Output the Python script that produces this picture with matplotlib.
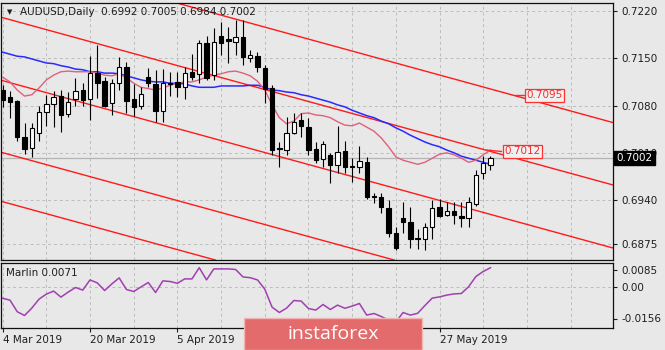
import numpy as np
import matplotlib
matplotlib.use('Agg')
import matplotlib.pyplot as plt
from matplotlib.patches import Rectangle

# AUDUSD diario, 4 Mar 2019 - 5 Jun 2019
opens = [0.7103, 0.7093, 0.7087, 0.7033, 0.7017, 0.7039, 0.7070, 0.7082, 0.7094, 0.7068,
         0.7090, 0.7103, 0.7090, 0.7128, 0.7116, 0.7084, 0.7113, 0.7137, 0.7090, 0.7079,
         0.7122, 0.7112, 0.7072, 0.7113, 0.7115, 0.7107, 0.7130, 0.7127, 0.7173, 0.7125,
         0.7183, 0.7179, 0.7174, 0.7182, 0.7150, 0.7153, 0.7136, 0.7106, 0.7017, 0.7014,
         0.7039, 0.7059, 0.7048, 0.7016, 0.7001, 0.7007, 0.6992, 0.7013, 0.6991, 0.6989,
         0.6996, 0.6946, 0.6945, 0.6928, 0.6891, 0.6914, 0.6908, 0.6884, 0.6882, 0.6900,
         0.6930, 0.6918, 0.6924, 0.6916, 0.6913, 0.6934, 0.6980, 0.6992]
highs = [0.7111, 0.7102, 0.7088, 0.7054, 0.7054, 0.7079, 0.7096, 0.7102, 0.7103, 0.7100,
         0.7121, 0.7113, 0.7153, 0.7170, 0.7122, 0.7119, 0.7152, 0.7145, 0.7112, 0.7107,
         0.7136, 0.7133, 0.7134, 0.7130, 0.7130, 0.7137, 0.7156, 0.7177, 0.7183, 0.7195,
         0.7204, 0.7196, 0.7207, 0.7207, 0.7162, 0.7159, 0.7140, 0.7110, 0.7026, 0.7063,
         0.7069, 0.7069, 0.7062, 0.7026, 0.7027, 0.7010, 0.7050, 0.7027, 0.7002, 0.7020,
         0.7004, 0.6951, 0.6951, 0.6940, 0.6900, 0.6937, 0.6930, 0.6897, 0.6906, 0.6940,
         0.6942, 0.6937, 0.6937, 0.6937, 0.6945, 0.6985, 0.7006, 0.7005]
lows = [0.7078, 0.7062, 0.7028, 0.7008, 0.7004, 0.7028, 0.7050, 0.7048, 0.7041, 0.7063,
        0.7079, 0.7079, 0.7059, 0.7091, 0.7078, 0.7066, 0.7103, 0.7069, 0.7065, 0.7075,
        0.7107, 0.7056, 0.7056, 0.7094, 0.7093, 0.7090, 0.7118, 0.7113, 0.7118, 0.7118,
        0.7155, 0.7143, 0.7155, 0.7140, 0.7145, 0.7130, 0.7084, 0.7007, 0.6989, 0.7007,
        0.7038, 0.7033, 0.7007, 0.6995, 0.6989, 0.6965, 0.6980, 0.6980, 0.6967, 0.6980,
        0.6942, 0.6936, 0.6921, 0.6885, 0.6866, 0.6891, 0.6869, 0.6868, 0.6866, 0.6882,
        0.6915, 0.6916, 0.6905, 0.6900, 0.6900, 0.6931, 0.6971, 0.6984]
closes = [0.7088, 0.7085, 0.7033, 0.7016, 0.7047, 0.7070, 0.7082, 0.7093, 0.7066, 0.7085,
          0.7102, 0.7088, 0.7128, 0.7113, 0.7079, 0.7113, 0.7137, 0.7087, 0.7078, 0.7097,
          0.7113, 0.7072, 0.7113, 0.7112, 0.7107, 0.7128, 0.7122, 0.7173, 0.7121, 0.7174,
          0.7173, 0.7176, 0.7182, 0.7152, 0.7155, 0.7137, 0.7105, 0.7014, 0.7016, 0.7039,
          0.7056, 0.7050, 0.7014, 0.6999, 0.7023, 0.6992, 0.7011, 0.6989, 0.6989, 0.6998,
          0.6945, 0.6945, 0.6930, 0.6891, 0.6869, 0.6908, 0.6882, 0.6882, 0.6900, 0.6928,
          0.6916, 0.6924, 0.6918, 0.6913, 0.6937, 0.6977, 0.6995, 0.7002]

# media movel azul e linha rosa
maBlue = [0.7159, 0.7156, 0.7153, 0.7152, 0.7149, 0.7146, 0.7143, 0.7142, 0.7139, 0.7137,
          0.7134, 0.7133, 0.7130, 0.7130, 0.7128, 0.7128, 0.7127, 0.7124, 0.7121, 0.7118,
          0.7116, 0.7115, 0.7115, 0.7113, 0.7113, 0.7112, 0.7109, 0.7107, 0.7107, 0.7107,
          0.7109, 0.7109, 0.7109, 0.7109, 0.7110, 0.7110, 0.7107, 0.7103, 0.7102, 0.7100,
          0.7099, 0.7096, 0.7094, 0.7091, 0.7088, 0.7085, 0.7081, 0.7078, 0.7073, 0.7069,
          0.7065, 0.7062, 0.7057, 0.7053, 0.7047, 0.7042, 0.7036, 0.7031, 0.7026, 0.7022,
          0.7019, 0.7014, 0.7010, 0.7005, 0.7002, 0.6999, 0.6996, 0.6993]
maPink = [0.7122, 0.7115, 0.7103, 0.7094, 0.7096, 0.7106, 0.7118, 0.7125, 0.7130, 0.7131,
          0.7130, 0.7130, 0.7130, 0.7128, 0.7125, 0.7124, 0.7127, 0.7121, 0.7113, 0.7107,
          0.7105, 0.7103, 0.7106, 0.7110, 0.7113, 0.7115, 0.7115, 0.7118, 0.7122, 0.7125,
          0.7127, 0.7130, 0.7131, 0.7128, 0.7124, 0.7116, 0.7103, 0.7081, 0.7062, 0.7053,
          0.7057, 0.7068, 0.7069, 0.7066, 0.7065, 0.7062, 0.7056, 0.7051, 0.7050, 0.7054,
          0.7048, 0.7042, 0.7032, 0.7019, 0.7004, 0.6999, 0.6996, 0.6993, 0.6996, 0.7002,
          0.7008, 0.7010, 0.7007, 0.7002, 0.6996, 0.6999, 0.7007, 0.7014]

# oscilador Marlin
marlin = [-0.0055, -0.0064, -0.0122, -0.0141, -0.0104, -0.0059, -0.0034, -0.0019, -0.0049, -0.0024,
          -0.0001, -0.0014, 0.0037, 0.0022, -0.0016, 0.0017, 0.0047, -0.0011, -0.0021, 0.0002,
          0.0024, -0.0026, 0.0032, 0.0029, 0.0020, 0.0042, 0.0042, 0.0098, 0.0037, 0.0092,
          0.0092, 0.0092, 0.0089, 0.0052, 0.0048, 0.0037, -0.0009, -0.0099, -0.0126, -0.0104,
          -0.0066, -0.0069, -0.0106, -0.0114, -0.0086, -0.0111, -0.0089, -0.0105, -0.0094, -0.0081,
          -0.0139, -0.0131, -0.0146, -0.0164, -0.0174, -0.0126, -0.0139, -0.0130, -0.0091, -0.0054,
          -0.0048, -0.0039, -0.0033, -0.0031, 0.0003, 0.0054, 0.0079, 0.0098]

# canal: preco de cada linha na barra 0 e na barra 67
channelStart = [0.73025, 0.72101, 0.71168, 0.70102, 0.69376]
channelEnd = [0.71045, 0.70121, 0.69188, 0.68122, 0.67396]

priceTicks = [0.7220, 0.7150, 0.7080, 0.7010, 0.6940, 0.6875]
marlinTicks = [0.0085, 0.0, -0.0156]
# as datas de 23 Apr e 9 May ficam escondidas pelo logo
dateIdx = [0, 12, 24, 36, 48, 60]
dateLabels = ['4 Mar 2019', '20 Mar 2019', '5 Apr 2019', '', '', '27 May 2019']
priceLabels = [0.7095, 0.7012]

bg = '#e8e8e8'
gridColor = '#bcbcbc'
textColor = '#1e1e1e'
fs = 7.5


def styleAxes(ax):
    ax.set_facecolor(bg)
    for s in ax.spines.values():
        s.set_color('#101010')
        s.set_linewidth(0.9)
    ax.set_axisbelow(True)
    ax.grid(True, which='both', axis='x', color=gridColor, lw=0.7, linestyle=(0, (3, 3)))


def drawCandles(ax):
    x = np.arange(len(opens))
    o = np.array(opens)
    c = np.array(closes)
    ax.vlines(x, lows, highs, color='black', lw=0.8, zorder=5)
    up = c >= o
    body = np.maximum(np.abs(c - o), 0.00004)
    ax.bar(x[up], body[up], bottom=o[up], width=0.6, color='white',
           edgecolor='black', lw=0.8, zorder=6)
    ax.bar(x[~up], body[~up], bottom=c[~up], width=0.6, color='black',
           edgecolor='black', lw=0.8, zorder=6)


fig = plt.figure(figsize=(6.65, 3.5), dpi=100, facecolor=bg)
ax = fig.add_axes([1/665, 90/350, 612/665, 257/350])
ax2 = fig.add_axes([1/665, 22/350, 612/665, 65/350])
styleAxes(ax)
styleAxes(ax2)

xlim = (-0.23, 83.83)
gridIdx = np.arange(0, 84, 6)

# ---------- painel principal ----------
ax.set_xlim(*xlim)
ax.set_ylim(0.68513, 0.72318)
ax.set_xticks(gridIdx)
ax.tick_params(axis='x', bottom=False, labelbottom=False)
ax.yaxis.tick_right()
ax.set_yticks(priceTicks)
ax.set_yticklabels(['%.4f' % p for p in priceTicks])
ax.tick_params(axis='y', length=3, pad=3, labelsize=fs, colors=textColor, width=0.8)
for p in priceTicks:
    ax.axhline(p, color=gridColor, lw=0.7, linestyle=(0, (3, 3)), zorder=0)
ax.axhline(closes[-1], color='#b4b4b4', lw=0.9, zorder=1)

for p0, p1 in zip(channelStart, channelEnd):
    ax.axline((0, p0), (67, p1), color='#ff1a1a', lw=1.0, zorder=2)

xs = np.arange(len(maBlue))
ax.plot(xs, maBlue, color='#2a2aff', lw=1.1, zorder=4)
ax.plot(xs, maPink, color='#e0607c', lw=1.0, zorder=4)
drawCandles(ax)

# etiquetas de preco (objetos do grafico)
ax.plot([70.4, 71.6], [priceLabels[0], priceLabels[0]], color='#ff2a2a', lw=1, zorder=7)
ax.text(71.9, priceLabels[0], '%.4f' % priceLabels[0], color='#f03030', fontsize=fs,
        va='center', ha='left', zorder=8,
        bbox=dict(boxstyle='square,pad=0.15', fc='#f0f0f0', ec='#ff3030', lw=0.9))
ax.plot([66.5, 68.5], [0.7014, priceLabels[1]], color='#ff2a2a', lw=1, zorder=7)
ax.text(68.9, priceLabels[1], '%.4f' % priceLabels[1], color='#f03030', fontsize=fs,
        va='center', ha='left', zorder=8,
        bbox=dict(boxstyle='square,pad=0.15', fc='#f0f0f0', ec='#ff3030', lw=0.9))

# preco atual no eixo
ax.annotate('%.4f' % closes[-1], xy=(1.0055, closes[-1]), xycoords=('axes fraction', 'data'),
            color='white', fontsize=fs, va='center', ha='left', annotation_clip=False, zorder=10,
            bbox=dict(boxstyle='square,pad=0.2', fc='black', ec='black'))

# titulo
ax.text(0.0139, 0.964, '\u25bc', transform=ax.transAxes, fontsize=5, color=textColor,
        ha='center', va='center')
ax.text(0.031, 0.964, 'AUDUSD,Daily  %.4f %.4f %.4f %.4f' % (opens[-1], highs[-1], lows[-1], closes[-1]),
        transform=ax.transAxes, fontsize=fs, color=textColor, ha='left', va='center')

# ---------- painel Marlin ----------
ax2.set_xlim(*xlim)
ax2.set_ylim(-0.02035, 0.01215)
ax2.plot(xs, marlin, color='#a040b0', lw=1.1, zorder=4)
ax2.axhline(0, color=gridColor, lw=0.7, linestyle=(0, (3, 3)), zorder=0)
ax2.yaxis.tick_right()
ax2.set_yticks(marlinTicks)
ax2.set_yticklabels(['0.0085', '0.00', '-0.0156'])
ax2.tick_params(axis='y', length=3, pad=3, labelsize=fs, colors=textColor, width=0.8)
ax2.set_xticks(gridIdx, minor=True)
ax2.set_xticks(dateIdx)
ax2.set_xticklabels(dateLabels, ha='left')
ax2.tick_params(axis='x', which='major', length=3, pad=2, labelsize=fs, colors=textColor, width=0.8)
ax2.tick_params(axis='x', which='minor', length=0)
ax2.text(0.008, 0.846, 'Marlin %.4f' % 0.0071, transform=ax2.transAxes, fontsize=fs,
         color=textColor, ha='left', va='center')

# logo
fig.add_artist(Rectangle((244/665, 0), 178/665, 32/350, transform=fig.transFigure,
                         fc='#e46b6b', ec='#f2b5b5', lw=1.0, zorder=20))
fig.text(333/665, 16/350, 'instaforex', color='white', fontsize=14, family='Open Sans',
         ha='center', va='center', zorder=21)

fig.savefig('out.png', dpi=100, facecolor=bg)
